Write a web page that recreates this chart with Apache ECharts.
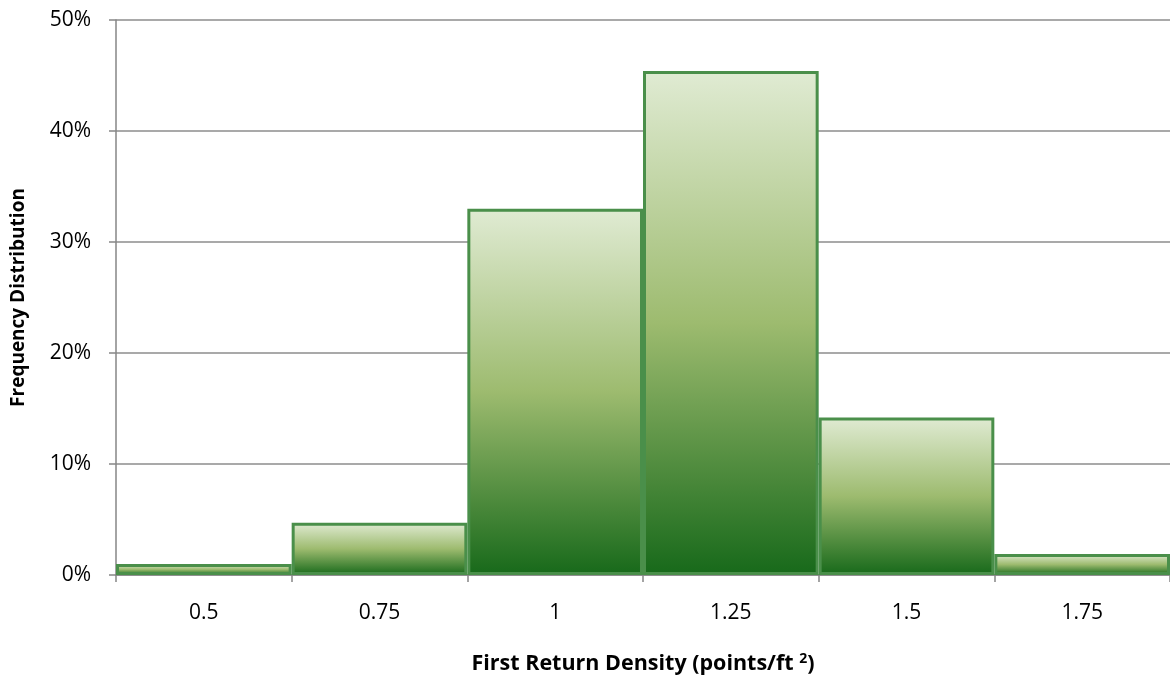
<!DOCTYPE html>
<html><head><meta charset="utf-8">
<script src="https://cdn.jsdelivr.net/npm/echarts@6/dist/echarts.min.js"></script>
<style>html,body{margin:0;padding:0;background:#fff}#c{width:1170px;height:686px}</style>
</head><body><div id="c"></div>
<script>
var categories = ['0.5', '0.75', '1', '1.25', '1.5', '1.75'];
var frequency = [1.0, 4.7, 33.0, 45.4, 14.2, 1.9];
var yTicks = [0, 10, 20, 30, 40, 50];

var font = '"Open Sans", "Liberation Sans", sans-serif';
var chart = echarts.init(document.getElementById('c'));
chart.setOption({
  animation: false,
  backgroundColor: '#fff',
  grid: {left: 116, right: 0, top: 20, bottom: 111, containLabel: false, outerBoundsMode: 'none'},
  xAxis: {
    type: 'category', data: categories, boundaryGap: true,
    axisLine: {lineStyle: {color: '#868686', width: 1.5}},
    axisTick: {show: true, length: 7, lineStyle: {color: '#868686', width: 1.5}},
    axisLabel: {color: '#000', fontFamily: font, fontSize: 21, margin: 28},
    name: '{t|First Return Density (points/ft }{s|2}{t|)}',
    nameLocation: 'middle', nameGap: 77,
    nameTextStyle: {
      rich: {
        t: {fontFamily: font, fontSize: 21.5, fontWeight: 'bold', color: '#000'},
        s: {fontFamily: font, fontSize: 14, fontWeight: 'bold', color: '#000', verticalAlign: 'top', padding: [0,0,10,0]}
      }
    }
  },
  yAxis: {
    type: 'value', min: 0, max: 50, interval: 10,
    axisLine: {show: true, lineStyle: {color: '#868686', width: 1.5}},
    axisTick: {show: true, length: 7, lineStyle: {color: '#868686', width: 1.5}},
    splitLine: {lineStyle: {color: '#8c8c8c', width: 1.5}},
    axisLabel: {color: '#000', fontFamily: font, fontSize: 21, margin: 25,
      formatter: function (v) { return yTicks.indexOf(v) >= 0 ? v + '%' : ''; }},
    name: 'Frequency Distribution', nameLocation: 'middle', nameGap: 88, nameRotate: 90,
    nameTextStyle: {fontFamily: font, fontSize: 19, fontWeight: 'bold', color: '#000'}
  },
  series: [{
    type: 'bar', data: frequency, barWidth: '100%', barCategoryGap: '0%',
    itemStyle: {
      borderColor: '#4a8f4a', borderWidth: 3,
      color: new echarts.graphic.LinearGradient(0, 0, 0, 1, [
        {offset: 0, color: '#e0ebd3'},
        {offset: 0.5, color: '#9dbb6f'},
        {offset: 1, color: '#17691a'}
      ])
    }
  }]
});
</script></body></html>
